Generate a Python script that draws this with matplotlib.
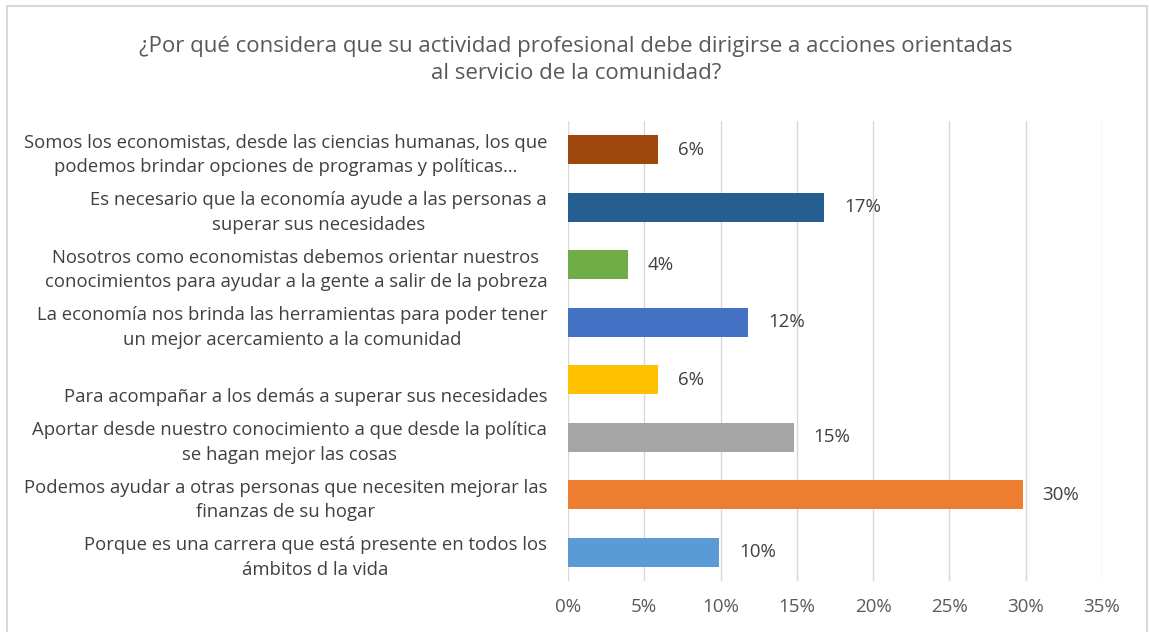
import matplotlib.pyplot as plt
from matplotlib.patches import Rectangle
from matplotlib.ticker import MultipleLocator, PercentFormatter

plt.rcParams['font.family'] = ['Open Sans', 'DejaVu Sans']

titulo = "¿Por qué considera que su actividad profesional debe dirigirse a acciones orientadas\nal servicio de la comunidad?"

respuestas = [
    "Somos los economistas, desde las ciencias humanas, los que\npodemos brindar opciones de programas y políticas…",
    "Es necesario que la economía ayude a las personas a\nsuperar sus necesidades",
    "Nosotros como economistas debemos orientar nuestros\nconocimientos para ayudar a la gente a salir de la pobreza",
    "La economía nos brinda las herramientas para poder tener\nun mejor acercamiento a la comunidad",
    "\nPara acompañar a los demás a superar sus necesidades",
    "Aportar desde nuestro conocimiento a que desde la política\nse hagan mejor las cosas",
    "Podemos ayudar a otras personas que necesiten mejorar las\nfinanzas de su hogar",
    "Porque es una carrera que está presente en todos los\námbitos d la vida",
]
porcentajes = [5.9, 16.8, 3.9, 11.8, 5.9, 14.8, 29.8, 9.9]
etiquetas = ["6%", "17%", "4%", "12%", "6%", "15%", "30%", "10%"]
colores = ["#9E480E", "#255E91", "#70AD47", "#4472C4",
           "#FFC000", "#A5A5A5", "#ED7D31", "#5B9BD5"]

fig = plt.figure(figsize=(11.49, 6.32), dpi=100)
# marco gris del gráfico
fig.patches.append(Rectangle((7 / 1149, -0.01), 1140 / 1149, 1 - 6 / 632 + 0.01,
                             transform=fig.transFigure, fill=False,
                             edgecolor="#D9D9D9", linewidth=1.5))

ax = fig.add_axes([568 / 1149, 1 - 581 / 632, 534 / 1149, 460 / 632])
pos = list(range(len(respuestas)))
ax.barh(pos, porcentajes, height=0.5, color=colores, zorder=3)

for p, v, t in zip(pos, porcentajes, etiquetas):
    ax.text(v + 1.3, p, t, va="center", ha="left", fontsize=13.5, color="#404040")

ax.set_xlim(0, 35)
ax.set_ylim(len(respuestas) - 0.5, -0.5)
ax.xaxis.set_major_locator(MultipleLocator(5))
ax.xaxis.set_major_formatter(PercentFormatter(decimals=0))
ax.grid(axis="x", color="#D9D9D9", linewidth=1, zorder=0)
ax.set_yticks(pos)
ax.set_yticklabels(respuestas, fontsize=13.3, color="#404040",
                   multialignment="center", linespacing=1.45)
for s in ax.spines.values():
    s.set_visible(False)
ax.tick_params(axis="both", length=0)
ax.tick_params(axis="y", pad=15)
ax.tick_params(axis="x", pad=12, labelsize=13.5, labelcolor="#595959")

fig.text(576 / 1149, 1 - 60 / 632, titulo, ha="center", va="center",
         fontsize=16, color="#595959", linespacing=1.4)

fig.savefig("out.png", dpi=100)
